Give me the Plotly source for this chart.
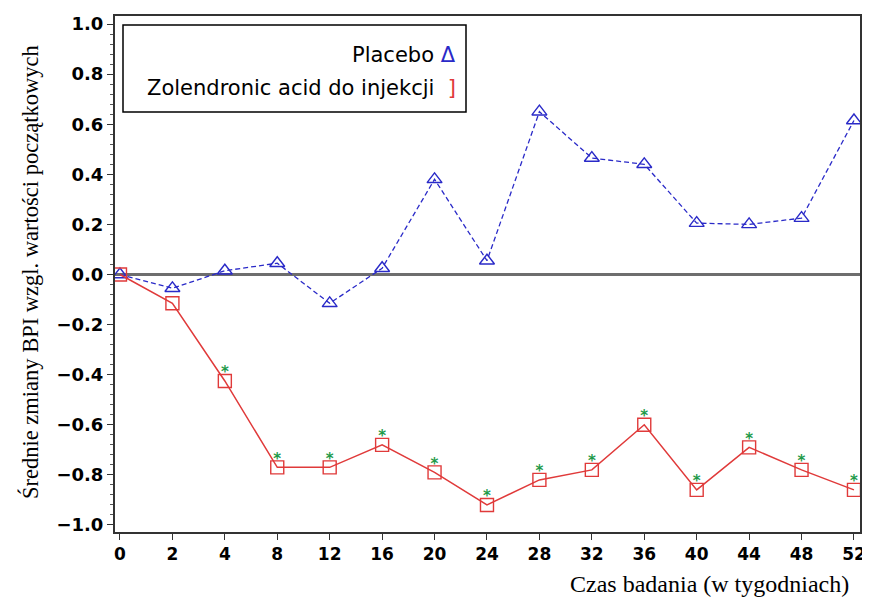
import plotly.graph_objects as go

weeks = ["0", "2", "4", "8", "12", "16", "20", "24", "28", "32", "36", "40", "44", "48", "52"]
placebo = [0.0, -0.055, 0.015, 0.045, -0.115, 0.025, 0.38, 0.055, 0.65, 0.465, 0.44, 0.205, 0.2, 0.225, 0.615]
zoledronic = [0.0, -0.115, -0.425, -0.77, -0.77, -0.68, -0.79, -0.92, -0.82, -0.78, -0.6, -0.86, -0.69, -0.78, -0.86]
significant = [False, False] + [True] * 13
y_ticks = [1.0, 0.8, 0.6, 0.4, 0.2, 0.0, -0.2, -0.4, -0.6, -0.8, -1.0]

BLUE = "#2a2ac8"
RED = "#e03a3a"
GREEN = "#1f9a4a"

fig = go.Figure()

fig.add_trace(go.Scatter(
    x=weeks, y=placebo, mode="lines+markers", name="Placebo",
    line=dict(color=BLUE, width=1.3, dash="5px,3px"),
    marker=dict(symbol="triangle-up-open", size=13, color=BLUE, line=dict(width=1.4)),
))
fig.add_trace(go.Scatter(
    x=weeks, y=zoledronic, mode="lines+markers", name="Zolendronic acid do injekcji",
    line=dict(color=RED, width=1.5),
    marker=dict(symbol="square-open", size=13, color=RED, line=dict(width=1.4)),
))
sig_x = [w for w, s in zip(weeks, significant) if s]
sig_y = [v for v, s in zip(zoledronic, significant) if s]
fig.add_trace(go.Scatter(
    x=sig_x, y=sig_y, mode="text", text=["*"] * len(sig_x),
    textposition="top center", textfont=dict(color=GREEN, size=15, family="DejaVu Sans", weight="bold"),
    showlegend=False,
))

# zero reference line
fig.add_shape(type="line", xref="paper", x0=0, x1=1, yref="y", y0=0, y1=0,
              line=dict(color="#6e6e6e", width=3), layer="below")

# legend box (paper coords: plot area is 115..860 x 16..532 in page pixels)
fig.add_shape(type="rect", xref="paper", yref="paper",
              x0=(123 - 115) / 745, x1=(466 - 115) / 745,
              y0=(532 - 112) / 516, y1=(532 - 25) / 516,
              line=dict(color="black", width=1.5), fillcolor="white")
fig.add_annotation(xref="paper", yref="paper", x=(458 - 115) / 745, y=(532 - 55) / 516,
                   xanchor="right", yanchor="middle",
                   text="Placebo <span style='color:%s'>Δ</span>" % BLUE, showarrow=False,
                   font=dict(family="DejaVu Sans", size=21, color="black"))
fig.add_annotation(xref="paper", yref="paper", x=(458 - 115) / 745, y=(532 - 88) / 516,
                   xanchor="right", yanchor="middle",
                   text="Zolendronic acid do injekcji  <span style='color:%s'>]</span>" % RED, showarrow=False,
                   font=dict(family="DejaVu Sans", size=21, color="black"))

# axis titles
fig.add_annotation(xref="paper", yref="paper", x=(30 - 115) / 745, y=(532 - 272) / 516,
                   xanchor="center", yanchor="middle", textangle=-90,
                   text="Średnie zmiany BPI wzgl. wartości początkowych", showarrow=False,
                   font=dict(family="Liberation Serif", size=22.5, color="black"))
fig.add_annotation(xref="paper", yref="paper", x=(709 - 115) / 745, y=(532 - 584) / 516,
                   xanchor="center", yanchor="middle",
                   text="Czas badania (w tygodniach)", showarrow=False,
                   font=dict(family="Liberation Serif", size=24, color="black"))

# page has an 8px body margin, so the figure is offset by 8px
fig.update_layout(
    width=862, height=595,
    margin=dict(l=107, r=10, t=8, b=71),
    plot_bgcolor="white", paper_bgcolor="white",
    showlegend=False,
    font=dict(family="DejaVu Sans", color="black"),
)
fig.update_xaxes(
    type="category", range=[-0.095, 14.115], automargin=False,
    showline=True, mirror=True, linecolor="#333", linewidth=2,
    ticks="outside", ticklen=6, tickcolor="#333",
    tickfont=dict(family="DejaVu Sans", size=17, color="black", weight="bold"),
    showgrid=False, zeroline=False,
)
fig.update_yaxes(
    range=[-1.028, 1.032], tickvals=y_ticks, tickformat=".1f", automargin=False,
    showline=True, mirror=True, linecolor="#333", linewidth=2,
    ticks="outside", ticklen=6, tickcolor="#333",
    minor=dict(dtick=0.04, ticks="outside", ticklen=3, tickcolor="#555"),
    tickfont=dict(family="DejaVu Sans", size=18, color="black", weight="bold"),
    showgrid=False, zeroline=False,
)

fig.write_html("out.html")
